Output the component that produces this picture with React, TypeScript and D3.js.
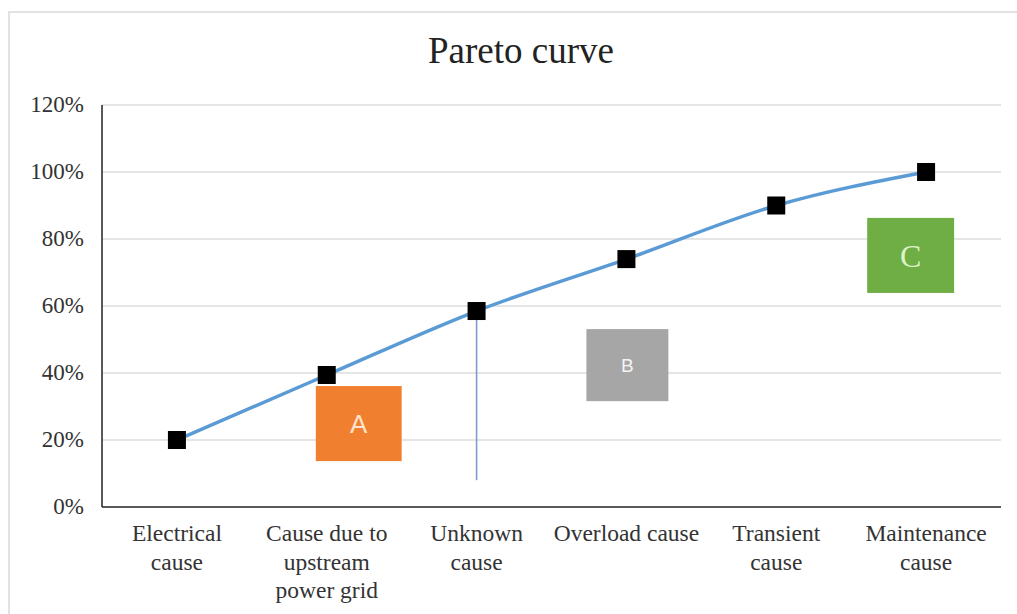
import React from "react";
import * as d3 from "d3";

const categories: string[][] = [
  ["Electrical", "cause"],
  ["Cause due to", "upstream", "power grid"],
  ["Unknown", "cause"],
  ["Overload cause"],
  ["Transient", "cause"],
  ["Maintenance", "cause"],
];
const cumulative: number[] = [0.2, 0.394, 0.585, 0.74, 0.9, 1.0];
const yTicks: number[] = [0, 0.2, 0.4, 0.6, 0.8, 1.0, 1.2];

// annotation boxes: [x0, x1] in category-index units, [y0, y1] in value units
const boxLabels = ["A", "B", "C"];
const boxX: [number, number][] = [[0.927, 1.5], [2.733, 3.28], [4.607, 5.187]];
const boxY: [number, number][] = [[0.137, 0.361], [0.316, 0.531], [0.639, 0.863]];
const boxFill = ["#F07F2F", "#A6A6A6", "#6FAD45"];
const boxText = ["#FDE3CC", "#F4F4F4", "#DDF3C8"];
const boxFont = ["Liberation Sans, Arial, sans-serif", "Liberation Sans, Arial, sans-serif", "Liberation Serif, Times New Roman, serif"];
const boxFontSize = [26, 19, 32];

const markerIndex = 2;
const markerBottom = 0.08;

export default function App() {
  const W = 1017, H = 614;
  const left = 102, right = 1001, top = 105, bottom = 507;
  const x = d3.scaleLinear().domain([-0.5, 5.5]).range([left, right]);
  const y = d3.scaleLinear().domain([0, 1.2]).range([bottom, top]);
  const line = d3
    .line<number>()
    .x((_, i) => x(i))
    .y((d) => y(d))
    .curve(d3.curveMonotoneX);
  const serif = "Liberation Serif, Times New Roman, serif";

  return (
    <svg width={W} height={H} style={{ position: "absolute", left: 0, top: 0 }}>
      <rect x={0} y={0} width={W} height={H} fill="#fff" />
      <rect x={9} y={12} width={1020} height={620} fill="none" stroke="#d9d9d9" strokeWidth={1.5} />
      <text x={521} y={63} textAnchor="middle" fontFamily={serif} fontSize={37} fill="#222">
        Pareto curve
      </text>
      {yTicks.map((t) => (
        <g key={t}>
          {t > 0 && <line x1={left} x2={right} y1={y(t)} y2={y(t)} stroke="#dcdcdc" strokeWidth={1.3} />}
          <text x={84} y={y(t) + 7} textAnchor="end" fontFamily={serif} fontSize={23} fill="#333">
            {Math.round(t * 100)}%
          </text>
        </g>
      ))}
      <line x1={left} x2={left} y1={top} y2={bottom} stroke="#222" strokeWidth={1.5} />
      <line x1={left} x2={right} y1={bottom} y2={bottom} stroke="#222" strokeWidth={1.5} />
      {categories.map((lines, i) => (
        <text key={i} textAnchor="middle" fontFamily={serif} fontSize={23.5} fill="#333">
          {lines.map((l, j) => (
            <tspan key={j} x={x(i)} y={541 + j * 28.5}>
              {l}
            </tspan>
          ))}
        </text>
      ))}
      <line
        x1={x(markerIndex)}
        x2={x(markerIndex)}
        y1={y(cumulative[markerIndex])}
        y2={y(markerBottom)}
        stroke="#7F9CD0"
        strokeWidth={1.6}
      />
      {boxLabels.map((lab, i) => (
        <g key={lab}>
          <rect
            x={x(boxX[i][0])}
            y={y(boxY[i][1])}
            width={x(boxX[i][1]) - x(boxX[i][0])}
            height={y(boxY[i][0]) - y(boxY[i][1])}
            fill={boxFill[i]}
          />
          <text
            x={(x(boxX[i][0]) + x(boxX[i][1])) / 2}
            y={(y(boxY[i][0]) + y(boxY[i][1])) / 2}
            dy="0.35em"
            textAnchor="middle"
            fontFamily={boxFont[i]}
            fontSize={boxFontSize[i]}
            fill={boxText[i]}
          >
            {lab}
          </text>
        </g>
      ))}
      <path d={line(cumulative) || ""} fill="none" stroke="#5B9BD5" strokeWidth={3.5} />
      {cumulative.map((v, i) => (
        <rect key={i} x={x(i) - 9} y={y(v) - 9} width={18} height={18} fill="#000" />
      ))}
    </svg>
  );
}
